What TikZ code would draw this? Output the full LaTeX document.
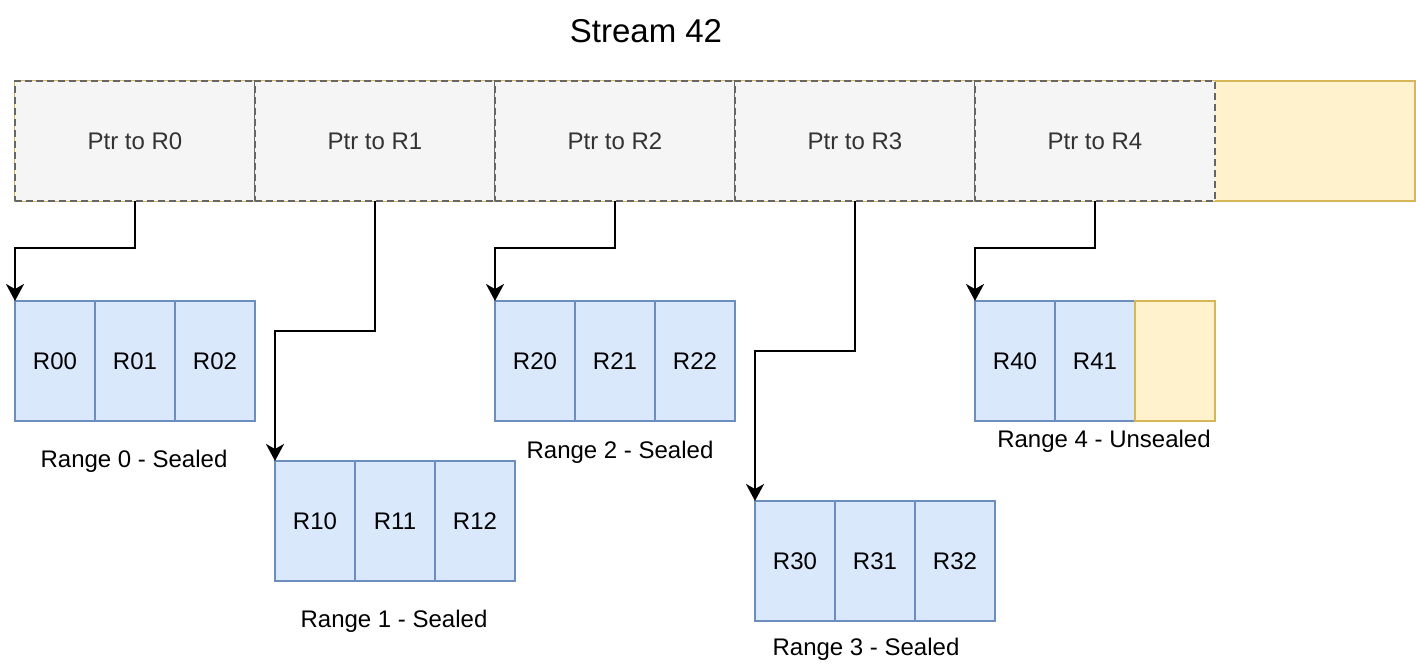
\documentclass[tikz,border=0pt]{standalone}
\usepackage{fontspec}
\setmainfont{Liberation Sans}
\usetikzlibrary{arrows.meta}
\definecolor{gfill}{HTML}{F5F5F5}
\definecolor{gstroke}{HTML}{666666}
\definecolor{gtext}{HTML}{333333}
\definecolor{bfill}{HTML}{DAE8FC}
\definecolor{bstroke}{HTML}{6C8EBF}
\definecolor{yfill}{HTML}{FFF2CC}
\definecolor{ystroke}{HTML}{D6B656}
\begin{document}
\begin{tikzpicture}[x=1pt,y=-1pt,
  ybar/.style={draw=ystroke,fill=yfill,line width=2pt,inner sep=0,outer sep=0,anchor=north west},
  ptrbox/.style={draw=gstroke,fill=gfill,line width=2pt,dash pattern=on 7pt off 4pt,minimum width=240pt,minimum height=120pt,inner sep=0,outer sep=0,anchor=north west,text=gtext,font=\fontsize{24}{28}\selectfont},
  cell/.style={draw=bstroke,fill=bfill,line width=2pt,minimum width=80pt,minimum height=120pt,inner sep=0,outer sep=0,anchor=north west,font=\fontsize{24}{28}\selectfont},
  ycell/.style={cell,draw=ystroke,fill=yfill},
  lbl/.style={inner sep=0,font=\fontsize{24}{28}\selectfont},
  arr/.style={line width=2pt,-{Stealth[length=17pt,width=18pt,inset=5pt]}}]
\useasboundingbox (0,0) rectangle (1416,668);
\node[lbl,font=\fontsize{33}{40}\selectfont] (title) at (646,31) {Stream 42};
\node[ybar,minimum width=1400pt,minimum height=120pt] (bar) at (15,81) {};
\foreach \i in {0,...,4}{
  \node[ptrbox] (p\i) at (15+240*\i,81) {Ptr to R\i};
}
% Range 0
\node[cell] (r00) at (15,301) {R00};
\node[cell] (r01) at (95,301) {R01};
\node[cell] (r02) at (175,301) {R02};
% Range 1
\node[cell] (r10) at (275,461) {R10};
\node[cell] (r11) at (355,461) {R11};
\node[cell] (r12) at (435,461) {R12};
% Range 2
\node[cell] (r20) at (495,301) {R20};
\node[cell] (r21) at (575,301) {R21};
\node[cell] (r22) at (655,301) {R22};
% Range 3
\node[cell] (r30) at (755,501) {R30};
\node[cell] (r31) at (835,501) {R31};
\node[cell] (r32) at (915,501) {R32};
% Range 4
\node[cell] (r40) at (975,301) {R40};
\node[cell] (r41) at (1055,301) {R41};
\node[ycell] (r42) at (1135,301) {};
% labels
\node[lbl] (l0) at (134,461) {Range 0 - Sealed};
\node[lbl] (l1) at (394,621) {Range 1 - Sealed};
\node[lbl] (l2) at (620,452) {Range 2 - Sealed};
\node[lbl] (l3) at (866,649) {Range 3 - Sealed};
\node[lbl] (l4) at (1104,441) {Range 4 - Unsealed};
% arrows
\draw[arr] (p0.south) -- ++(0,47) -| (r00.north west);
\draw[arr] (p1.south) -- ++(0,130) -| (r10.north west);
\draw[arr] (p2.south) -- ++(0,47) -| (r20.north west);
\draw[arr] (p3.south) -- ++(0,150) -| (r30.north west);
\draw[arr] (p4.south) -- ++(0,47) -| (r40.north west);
\end{tikzpicture}
\end{document}
